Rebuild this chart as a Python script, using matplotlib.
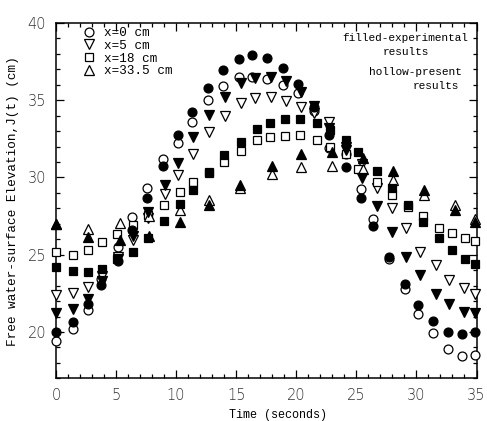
import matplotlib
matplotlib.use("Agg")
import matplotlib.pyplot as plt
from matplotlib.lines import Line2D
from matplotlib.ticker import MultipleLocator

# ---- data ----
t_x0 = [0, 1.39, 2.69, 3.75, 5.12, 6.29, 7.58, 8.91, 10.16, 11.30, 12.63, 13.93, 15.24, 16.32,
        17.57, 18.90, 20.15, 21.48, 22.76, 24.12, 25.40, 26.37, 27.69, 29.06, 30.17, 31.37,
        32.61, 33.78, 34.85]
exp_x0 = [20.0, 20.64, 21.79, 23.07, 24.58, 26.63, 28.64, 30.73, 32.74, 34.21, 35.77, 36.95,
          37.67, 37.93, 37.75, 37.1, 36.05, 34.54, 32.74, 30.69, 28.64, 26.84, 24.85, 23.08,
          21.77, 20.69, 20.0, 19.84, 20.0]
pre_x0 = [19.39, 20.17, 21.44, 23.4, 25.5, 27.41, 29.29, 31.19, 32.2, 33.56, 35.0, 35.92,
          36.48, 36.52, 36.35, 35.98, 35.48, 34.3, 31.92, 31.49, 29.24, 27.3, 24.7, 22.76,
          21.14, 19.93, 18.87, 18.44, 18.48]

t_x5 = [0, 1.39, 2.69, 3.80, 5.16, 6.44, 7.69, 9.08, 10.18, 11.37, 12.76, 14.07, 15.36, 16.6,
        17.86, 19.15, 20.37, 21.5, 22.76, 24.14, 25.48, 26.7, 27.95, 29.16, 30.31, 31.6,
        32.74, 34.0, 34.9]
exp_x5 = [21.25, 21.51, 22.16, 23.3, 24.7, 26.2, 27.75, 29.5, 30.95, 32.63, 34.04, 35.18,
          36.09, 36.45, 36.52, 36.26, 35.55, 34.6, 33.2, 31.8, 29.94, 28.14, 26.47, 24.85,
          23.67, 22.48, 21.83, 21.29, 21.23]
pre_x5 = [22.37, 22.55, 22.91, 23.6, 24.85, 25.95, 27.4, 28.96, 30.15, 31.55, 32.96, 33.99,
          34.8, 35.12, 35.18, 34.95, 34.58, 34.2, 33.6, 32.0, 30.9, 29.29, 28.05, 26.76,
          25.18, 24.32, 23.39, 22.85, 22.48]

t_x18 = [0, 1.39, 2.69, 3.80, 5.05, 6.44, 7.69, 9.03, 10.32, 11.37, 12.72, 14.01, 15.36, 16.71,
         17.79, 19.07, 20.29, 21.71, 22.82, 24.14, 25.17, 26.7, 27.95, 29.33, 30.58, 31.86,
         32.94, 34.05, 34.9]
exp_x18 = [24.21, 23.95, 23.88, 24.1, 24.7, 25.2, 26.1, 27.2, 28.31, 29.22, 30.36, 31.45,
           32.31, 33.13, 33.5, 33.78, 33.78, 33.54, 33.1, 32.42, 31.66, 30.43, 29.29, 28.2,
           27.12, 26.05, 25.33, 24.7, 24.4]
pre_x18 = [25.18, 24.96, 25.29, 25.83, 26.37, 26.9, 27.55, 28.2, 29.07, 29.72, 30.3, 31.0,
           31.72, 32.42, 32.59, 32.68, 32.74, 32.42, 31.95, 31.55, 30.58, 29.72, 28.85, 28.1,
           27.49, 26.76, 26.41, 26.05, 25.9]

t_x335 = [0, 2.69, 5.33, 7.74, 10.32, 12.74, 15.32, 17.96, 20.37, 22.98, 25.59, 28.02, 30.64,
          33.22, 34.9]
exp_x335 = [27.02, 26.15, 25.94, 26.2, 27.12, 28.25, 29.5, 30.73, 31.49, 31.66, 31.23, 30.43,
            29.18, 27.88, 27.12]
pre_x335 = [27.0, 26.69, 27.07, 27.5, 27.88, 28.53, 29.33, 30.2, 30.69, 30.75, 30.58, 29.83,
            28.85, 28.2, 27.34]

legend_labels = ["x=0 cm", "x=5 cm", "x=18 cm", "x=33.5 cm"]
x_ticks = [0, 5, 10, 15, 20, 25, 30, 35]
y_ticks = [20, 25, 30, 35, 40]

# ---- figure ----
W, H = 487, 421
fig = plt.figure(figsize=(W / 100, H / 100), dpi=100)
L, R, T, B = 56, 476.5, 23, 378.3
ax = fig.add_axes([L / W, 1 - B / H, (R - L) / W, (B - T) / H])

mono = "Liberation Mono"

series = [
    (t_x0, exp_x0, pre_x0, "o", 6.4),
    (t_x5, exp_x5, pre_x5, "v", 6.6),
    (t_x18, exp_x18, pre_x18, "s", 5.4),
    (t_x335, exp_x335, pre_x335, "^", 6.6),
]
for t, e, p, m, ms in series:
    ax.plot(t, p, ls="none", marker=m, ms=ms, mfc="white", mec="black", mew=0.9,
            clip_on=False, zorder=3)
    ax.plot(t, e, ls="none", marker=m, ms=ms, mfc="black", mec="black", mew=0.9,
            clip_on=False, zorder=4)

ax.set_xlim(0, 35)
ax.set_ylim(17, 40)
ax.set_xticks(x_ticks)
ax.set_yticks(y_ticks)
ax.xaxis.set_minor_locator(MultipleLocator(1))
ax.yaxis.set_minor_locator(MultipleLocator(1))
ax.tick_params(which="both", direction="in", top=True, right=True, width=0.9)
ax.tick_params(which="major", length=6, labelsize=10.5, pad=7)
ax.tick_params(which="minor", length=3)
for lab in ax.get_xticklabels() + ax.get_yticklabels():
    lab.set_fontweight("light")
    lab.set_color("#333333")
for s in ax.spines.values():
    s.set_linewidth(1.1)

ax.set_xlabel("Time (seconds)", family=mono, fontsize=8.5)
ax.xaxis.set_label_coords(0.528, -0.085)
ax.set_ylabel("Free water-surface Elevation,J(t) (cm)", family=mono, fontsize=9.2,
              labelpad=6)

handles = [Line2D([], [], ls="none", marker=m, ms=ms, mfc="white", mec="black", mew=0.9)
           for (_, _, _, m, ms) in series]
ax.legend(handles, legend_labels, loc="upper left", bbox_to_anchor=(0.037, 1.02),
          frameon=False, handlelength=1.0, handletextpad=0.7, labelspacing=0.05,
          prop={"family": mono, "size": 9.1})

tx = ax.transAxes
ax.text(0.831, 0.958, "filled-experimental", transform=tx, ha="center", va="center",
        family=mono, fontsize=8)
ax.text(0.831, 0.918, "results", transform=tx, ha="center", va="center",
        family=mono, fontsize=8)
ax.text(0.854, 0.863, "hollow-present", transform=tx, ha="center", va="center",
        family=mono, fontsize=8)
ax.text(0.9025, 0.8235, "results", transform=tx, ha="center", va="center",
        family=mono, fontsize=8)

fig.savefig("out.png", dpi=100)
